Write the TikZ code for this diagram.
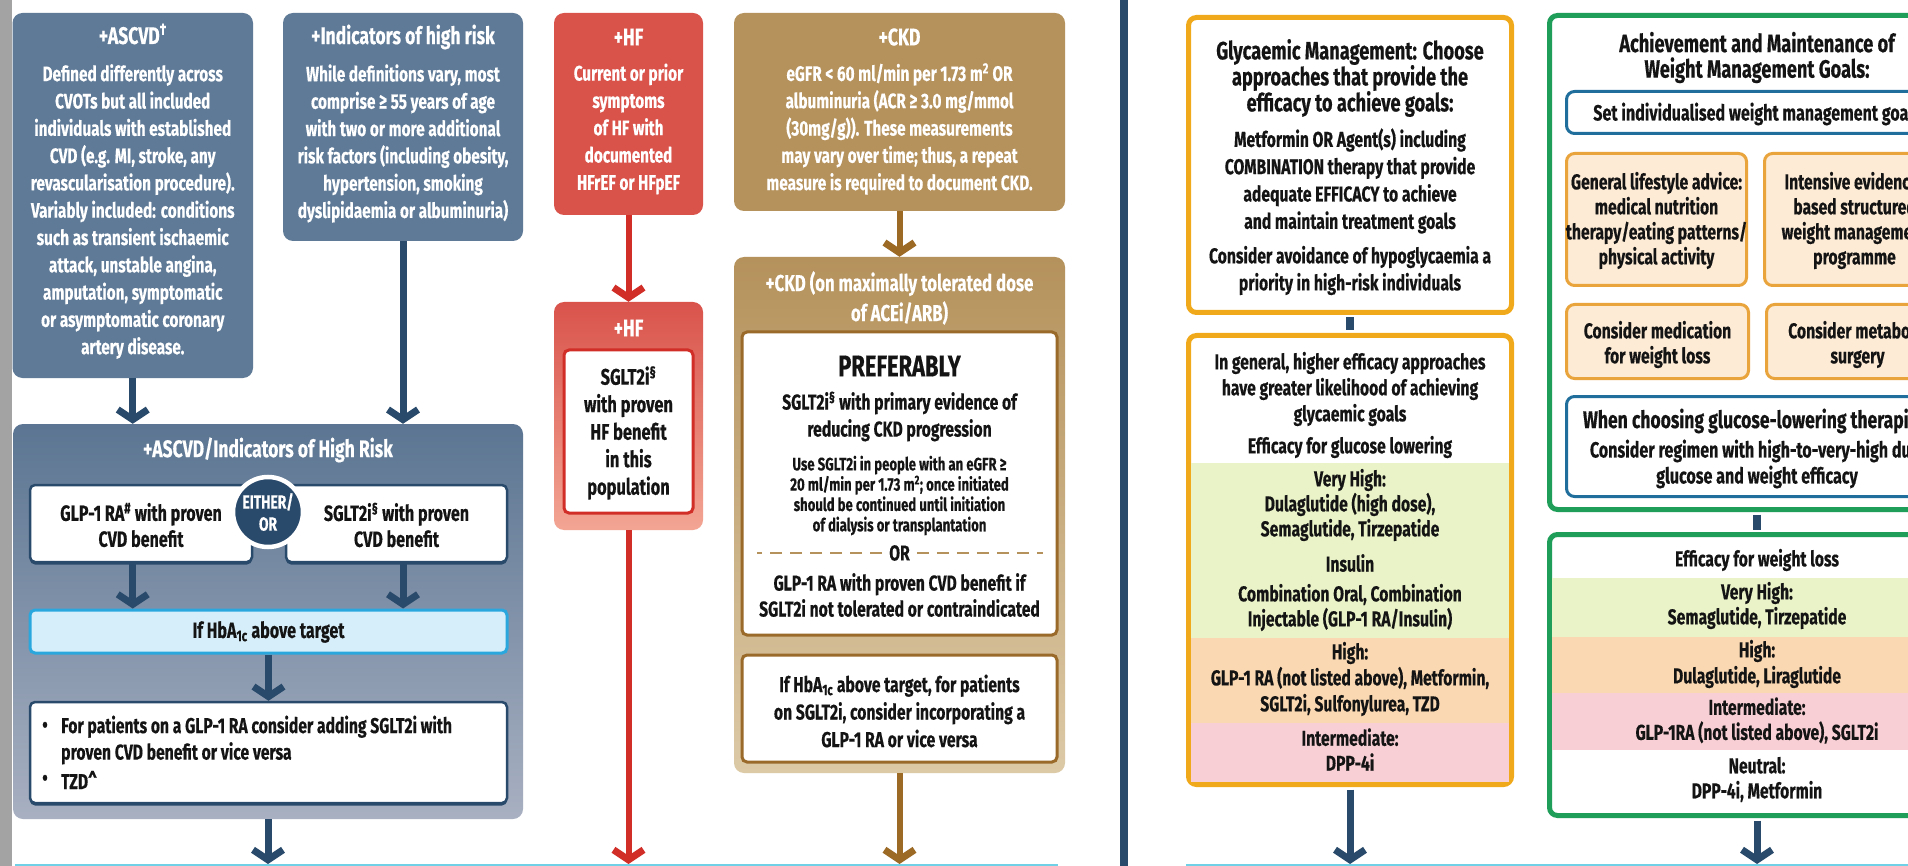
\documentclass[tikz,border=0pt]{standalone}
\usepackage{fontspec}
\setmainfont{Fira Sans}[FakeStretch=0.73, BoldFeatures={FakeBold=0.4}]
\usetikzlibrary{arrows.meta,calc}
\definecolor{slate}{HTML}{5E7A97}
\definecolor{navy}{HTML}{2A4A6B}
\definecolor{bgtop}{HTML}{5B7592}
\definecolor{bgbot}{HTML}{A8B0C1}
\definecolor{hfred}{HTML}{D9534B}
\definecolor{hfarrow}{HTML}{D12E28}
\definecolor{hfpink}{HTML}{F3A594}
\definecolor{ckd}{HTML}{B5925C}
\definecolor{ckdlight}{HTML}{DCC9A6}
\definecolor{ckdarrow}{HTML}{9C6A25}
\definecolor{ckdline}{HTML}{9A6A2A}
\definecolor{gold}{HTML}{F0A91B}
\definecolor{vgreen}{HTML}{E9F3C7}
\definecolor{vorange}{HTML}{FAD8B1}
\definecolor{vpink}{HTML}{F8CFD4}
\definecolor{wgreen}{HTML}{1F9E59}
\definecolor{wblue}{HTML}{1F6E9B}
\definecolor{peach}{HTML}{FDEBD5}
\definecolor{peachline}{HTML}{E9A43C}
\definecolor{hbfill}{HTML}{D6EEF9}
\definecolor{hbline}{HTML}{2AA8DE}
\definecolor{cyanline}{HTML}{6FD0E6}
\definecolor{ink}{HTML}{141414}
\definecolor{strip}{HTML}{A3A3A3}
\newcommand\myfs[2]{\fontsize{#1}{#2}\selectfont\bfseries}
\begin{document}
\begin{tikzpicture}[x=1pt,y=-1pt,
  cbox/.style={rounded corners=10pt, inner sep=0pt, draw=none},
  wbox/.style={rounded corners=5pt, fill=white, inner sep=0pt},
  shadowed/.style={preaction={fill=navy, transform canvas={yshift=-2.5pt}}},
  wt/.style={inner sep=0pt, align=center, text=white},
  bt/.style={inner sep=0pt, align=center, text=ink},
  tit/.style={font=\myfs{24}{27}},
  bod/.style={font=\myfs{21}{27.3}},
  arrhead/.style={-{Straight Barb[length=10pt,width=30pt,line width=7pt]}},
  navyarr/.style={draw=navy, line width=7pt, arrhead},
  redarr/.style={draw=hfarrow, line width=6pt, arrhead},
  brownarr/.style={draw=ckdarrow, line width=6pt, arrhead},
  navylink/.style={draw=navy, line width=8pt, shorten <=2.5pt, shorten >=2.5pt},
  goldbox/.style={draw=gold, line width=5pt, fill=white, rounded corners=8pt, inner sep=0pt},
  greenbox/.style={draw=wgreen, line width=5pt, fill=white, rounded corners=8pt, inner sep=0pt},
  bluebox/.style={draw=wblue, line width=3pt, fill=white, rounded corners=8pt, inner sep=0pt},
  peachbox/.style={draw=peachline, line width=3pt, fill=peach, rounded corners=8pt, inner sep=0pt},
  ckddash/.style={draw=ckd, line width=2.5pt, dash pattern=on 12pt off 8pt}
]
\useasboundingbox (0,0) rectangle (1908,866);
\clip (0,0) rectangle (1908,866);
\fill[white] (0,0) rectangle (1908,866);
\fill[strip] (0,0) rectangle (12,866);

% ---------- top row, left half ----------
\node[cbox, fill=slate, minimum width=240.5pt, minimum height=365pt] (A1) at (132.75,195.5) {};
\node[wt, tit] (A1t) at (132.75,34) {+ASCVD\textsuperscript{†}};
\node[wt, bod] (A1b) at (132.75,211.5) {Defined differently across\\CVOTs but all included\\individuals with established\\CVD (e.g. MI, stroke, any\\revascularisation procedure).\\Variably included: conditions\\such as transient ischaemic\\attack, unstable angina,\\amputation, symptomatic\\or asymptomatic coronary\\artery disease.};

\node[cbox, fill=slate, minimum width=240pt, minimum height=228pt] (A2) at (403,127) {};
\node[wt, tit] (A2t) at (403,37) {+Indicators of high risk};
\node[wt, bod] (A2b) at (403,143.5) {While definitions vary, most\\comprise ≥ 55 years of age\\with two or more additional\\risk factors (including obesity,\\hypertension, smoking\\dyslipidaemia or albuminuria)};

\node[cbox, fill=hfred, minimum width=149pt, minimum height=202pt] (H1) at (628.5,114) {};
\node[wt, tit] (H1t) at (628.5,37) {+HF};
\node[wt, bod] (H1b) at (628.5,129) {Current or prior\\symptoms\\of HF with\\documented\\HFrEF or HFpEF};

\node[cbox, fill=ckd, minimum width=331pt, minimum height=198pt] (C1) at (899.5,112) {};
\node[wt, tit] (C1t) at (899.5,37) {+CKD};
\node[wt, bod] (C1b) at (899.5,129) {eGFR < 60 ml/min per 1.73 m\textsuperscript{2} OR\\albuminuria (ACR ≥ 3.0 mg/mmol\\(30mg/g)). These measurements\\may vary over time; thus, a repeat\\measure is required to document CKD.};

% ---------- ASCVD / high risk block ----------
\node[cbox, top color=bgtop, bottom color=bgbot, minimum width=510pt, minimum height=395pt] (B) at (268,621.5) {};
\node[wt, tit] (Bt) at (268,450) {+ASCVD/Indicators of High Risk};
\node[wbox, shadowed, draw=navy, line width=2.5pt, minimum width=222pt, minimum height=77pt] (L) at (141,523.5) {};
\node[bt, font=\myfs{22}{26}] (Lt) at (141,525) {GLP-1 RA\textsuperscript{\#} with proven\\CVD benefit};
\node[wbox, shadowed, draw=navy, line width=2.5pt, minimum width=221pt, minimum height=77pt] (R) at (396.5,523.5) {};
\node[bt, font=\myfs{22}{26}] (Rt) at (396.5,525) {SGLT2i\textsuperscript{§} with proven\\CVD benefit};
\node[circle, fill=navy, draw=white, line width=4.5pt, minimum size=70pt, inner sep=0pt,
      text=white, align=center, font=\myfs{19}{22}] (E) at (268,512) {EITHER/\\OR};
\node[wbox, fill=hbfill, draw=hbline, line width=3pt, minimum width=477pt, minimum height=43pt] (Hb) at (268.5,631.5) {};
\node[bt, font=\myfs{22}{26}] (Hbt) at (268.5,632) {If HbA\textsubscript{1c} above target};
\node[wbox, shadowed, draw=navy, line width=2.5pt, minimum width=477pt, minimum height=101pt] (Bul) at (268.5,752.5) {};
\node[bt, font=\myfs{21.5}{26.5}] (b1) at (45,727) {\textbullet};
\node[bt, font=\myfs{21.5}{26.5}, align=left, anchor=west] (b1t) at (61,740) {For patients on a GLP-1 RA consider adding SGLT2i with\\proven CVD benefit or vice versa};
\node[bt, font=\myfs{21.5}{26.5}] (b2) at (45,780) {\textbullet};
\node[bt, font=\myfs{21.5}{26.5}, anchor=west] (b2t) at (61,780) {TZD\textasciicircum};

\draw[navyarr] (A1.south) -- (A1.south |- B.north);
\draw[navyarr] (A2.south) -- (A2.south |- B.north);
\draw[navyarr] (L.south -| A1.south) -- (Hb.north -| A1.south);
\draw[navyarr] (R.south -| A2.south) -- (Hb.north -| A2.south);
\draw[navyarr] (Hb.south) -- (Bul.north);
\coordinate (Bend) at (268,864);
\draw[navyarr] (B.south) -- (Bend);

% ---------- HF block ----------
\node[cbox, top color=hfred, bottom color=hfpink, minimum width=149pt, minimum height=228pt] (H2) at (628.5,416) {};
\node[wt, tit] (H2t) at (628.5,328) {+HF};
\node[wbox, draw=hfarrow, line width=3pt, minimum width=129pt, minimum height=163pt] (HI) at (628.5,431.5) {};
\node[bt, font=\myfs{22.5}{27.5}] (HIt) at (628.5,433) {SGLT2i\textsuperscript{§}\\with proven\\HF benefit\\in this\\population};
\draw[redarr] (H1.south) -- (H2.north);
\coordinate (Hend) at (628.5,864);
\draw[redarr] (H2.south) -- (Hend);

% ---------- CKD block ----------
\node[cbox, top color=ckd, bottom color=ckdlight, minimum width=331pt, minimum height=516pt] (C2) at (899.5,515) {};
\node[wt, font=\myfs{23}{30}] (C2t) at (899.5,298) {+CKD (on maximally tolerated dose\\of ACEi/ARB)};
\node[wbox, draw=ckdline, line width=3pt, minimum width=315pt, minimum height=303pt] (P) at (899.5,483.5) {};
\node[bt, font=\myfs{30}{30}] (Pa) at (899.5,366) {PREFERABLY};
\node[bt, font=\myfs{21.5}{27}] (Pb) at (899.5,416.5) {SGLT2i\textsuperscript{§} with primary evidence of\\reducing CKD progression};
\node[bt, font=\myfs{18}{20.3}] (Pc) at (899.5,495.5) {Use SGLT2i in people with an eGFR ≥\\20 ml/min per 1.73 m\textsuperscript{2}; once initiated\\should be continued until initiation\\of dialysis or transplantation};
\node[bt, font=\myfs{21.5}{26}] (Por) at (899.5,553) {OR};
\draw[ckddash] ($(Por.west)+(-7,0)$) -- ($(P.west |- Por)+(16,0)$);
\draw[ckddash] ($(Por.east)+(7,0)$) -- ($(P.east |- Por)+(-16,0)$);
\node[bt, font=\myfs{21.5}{26}] (Pd) at (899.5,595) {GLP-1 RA with proven CVD benefit if\\SGLT2i not tolerated or contraindicated};
\node[wbox, draw=ckdline, line width=3pt, minimum width=315pt, minimum height=107pt] (Q) at (899.5,708.5) {};
\node[bt, font=\myfs{21.5}{27.5}] (Qt) at (899.5,711) {If HbA\textsubscript{1c} above target, for patients\\on SGLT2i, consider incorporating a\\GLP-1 RA or vice versa};
\draw[brownarr] (C1.south) -- (C2.north);
\coordinate (Cend) at (899.5,864);
\draw[brownarr] (C2.south) -- (Cend);

% ---------- divider ----------
\fill[navy] (1120,0) rectangle (1128,866);

% ---------- glycaemic management ----------
\node[goldbox, minimum width=323pt, minimum height=295pt] (G1) at (1350,165) {};
\node[bt, font=\myfs{25}{26}] (G1a) at (1350,78) {Glycaemic Management: Choose\\approaches that provide the\\efficacy to achieve goals:};
\node[bt, font=\myfs{21.5}{27.3}] (G1b) at (1350,181) {Metformin OR Agent(s) including\\COMBINATION therapy that provide\\adequate EFFICACY to achieve\\and maintain treatment goals};
\node[bt, font=\myfs{21.5}{27}] (G1c) at (1350,270.5) {Consider avoidance of hypoglycaemia a\\priority in high-risk individuals};

\node[goldbox, minimum width=323pt, minimum height=449pt] (G2) at (1350,560) {};
\fill[vgreen] (1191,463) rectangle (1509,638);
\fill[vorange] (1191,638) rectangle (1509,723);
\fill[vpink] (1191,723) rectangle (1509,782);
\node[bt, font=\myfs{21.5}{26}] (G2a) at (1350,389) {In general, higher efficacy approaches\\have greater likelihood of achieving\\glycaemic goals};
\node[bt, font=\myfs{21.5}{26}] (G2b) at (1350,447) {Efficacy for glucose lowering};
\node[bt, font=\myfs{21.5}{25}] (G2c) at (1350,505) {Very High:\\Dulaglutide (high dose),\\Semaglutide, Tirzepatide};
\node[bt, font=\myfs{21.5}{25}] (G2d) at (1350,563) {Insulin};
\node[bt, font=\myfs{21.5}{25}] (G2e) at (1350,607.5) {Combination Oral, Combination\\Injectable (GLP-1 RA/Insulin)};
\node[bt, font=\myfs{21.5}{26}] (G2f) at (1350,679) {High:\\GLP-1 RA (not listed above), Metformin,\\SGLT2i, Sulfonylurea, TZD};
\node[bt, font=\myfs{21.5}{25}] (G2g) at (1350,749.5) {Intermediate:\\DPP-4i};
\draw[navylink] (G1.south) -- (G2.north);
\coordinate (Gend) at (1350,864);
\draw[navyarr, shorten <=2.5pt] (G2.south) -- (Gend);

% ---------- weight management ----------
\node[greenbox, minimum width=415pt, minimum height=494pt] (W1) at (1757,262.5) {};
\node[bt, font=\myfs{25}{25.5}] (W1a) at (1757,57.5) {Achievement and Maintenance of\\Weight Management Goals:};
\node[bluebox, minimum width=381pt, minimum height=42pt] (S) at (1757,112.5) {};
\node[bt, font=\myfs{22}{26}] (St) at (1757,114) {Set individualised weight management goals};
\node[peachbox, minimum width=180pt, minimum height=132pt] (Wa) at (1656.5,219.5) {};
\node[bt, font=\myfs{21.5}{25}] (Wat) at (1656.5,220.5) {General lifestyle advice:\\medical nutrition\\therapy/eating patterns/\\physical activity};
\node[peachbox, minimum width=180pt, minimum height=132pt] (Wb) at (1854.5,219.5) {};
\node[bt, font=\myfs{21.5}{25}] (Wbt) at (1854.5,220.5) {Intensive evidence-\\based structured\\weight management\\programme};
\node[peachbox, minimum width=182pt, minimum height=74pt] (Wc) at (1657.5,341.5) {};
\node[bt, font=\myfs{21.5}{25}] (Wct) at (1657.5,344.5) {Consider medication\\for weight loss};
\node[peachbox, minimum width=182pt, minimum height=74pt] (Wd) at (1857.5,341.5) {};
\node[bt, font=\myfs{21.5}{25}] (Wdt) at (1857.5,344.5) {Consider metabolic\\surgery};
\node[bluebox, minimum width=381pt, minimum height=100pt] (T) at (1757,446.5) {};
\node[bt, font=\myfs{24}{26}] (Tt) at (1757,421) {When choosing glucose-lowering therapies:};
\node[bt, font=\myfs{22}{26}] (Tb) at (1757,464) {Consider regimen with high-to-very-high dual\\glucose and weight efficacy};

\node[greenbox, minimum width=415pt, minimum height=281pt] (W2) at (1757,675) {};
\fill[vgreen] (1552,578) rectangle (1962,637);
\fill[vorange] (1552,637) rectangle (1962,693);
\fill[vpink] (1552,693) rectangle (1962,750);
\node[bt, font=\myfs{21.5}{25}] (W2a) at (1757,560) {Efficacy for weight loss};
\node[bt, font=\myfs{21.5}{25}] (W2b) at (1757,605.5) {Very High:\\Semaglutide, Tirzepatide};
\node[bt, font=\myfs{21.5}{26}] (W2c) at (1757,664) {High:\\Dulaglutide, Liraglutide};
\node[bt, font=\myfs{21.5}{25}] (W2d) at (1757,720.5) {Intermediate:\\GLP-1RA (not listed above), SGLT2i};
\node[bt, font=\myfs{21.5}{25}] (W2e) at (1757,779.5) {Neutral:\\DPP-4i, Metformin};
\draw[navylink] (W1.south) -- (W2.north);
\coordinate (Wend) at (1757,864);
\draw[navyarr, shorten <=2.5pt] (W2.south) -- (Wend);

% ---------- bottom edge ----------
\draw[cyanline, line width=3pt] (15,865) -- (1058,865);
\draw[cyanline, line width=3pt] (1186,865) -- (1908,865);
\end{tikzpicture}
\end{document}
